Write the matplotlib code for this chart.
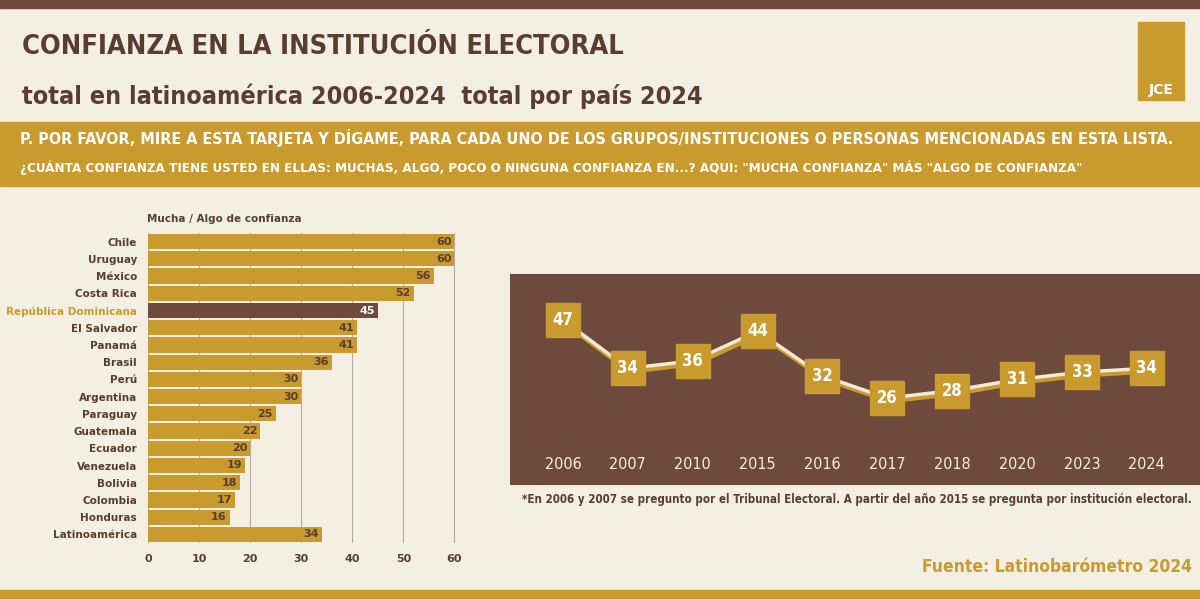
import matplotlib
matplotlib.use("Agg")
import matplotlib.pyplot as plt
import matplotlib.patches as mpatches

paises = ["Chile", "Uruguay", "México", "Costa Rica", "República Dominicana", "El Salvador",
          "Panamá", "Brasil", "Perú", "Argentina", "Paraguay", "Guatemala", "Ecuador",
          "Venezuela", "Bolivia", "Colombia", "Honduras", "Latinoamérica"]
valores = [60, 60, 56, 52, 45, 41, 41, 36, 30, 30, 25, 22, 20, 19, 18, 17, 16, 34]
anios = ["2006", "2007", "2010", "2015", "2016", "2017", "2018", "2020", "2023", "2024"]
serie = [47, 34, 36, 44, 32, 26, 28, 31, 33, 34]

BG = "#f3efe3"
BROWN = "#6e4a3c"
GOLD = "#c99a2e"
TXT = "#5a3d30"
W, H = 1200, 599

fig = plt.figure(figsize=(12, 5.99), dpi=100, facecolor=BG)


def rect(x0, y0, x1, y1):
    # pixel coords (top-left origin) -> figure fraction
    return [x0 / W, 1 - y1 / H, (x1 - x0) / W, (y1 - y0) / H]


def fx(x):
    return x / W


def fy(y):
    return 1 - y / H


# franjas
fig.patches.append(mpatches.Rectangle((0, fy(8)), 1, 8 / H, transform=fig.transFigure, color=BROWN))
fig.patches.append(mpatches.Rectangle((0, 0), 1, 9 / H, transform=fig.transFigure, color=GOLD))
fig.patches.append(mpatches.Rectangle((0, fy(186)), 1, 64 / H, transform=fig.transFigure, color=GOLD))
fig.patches.append(mpatches.Rectangle((fx(1138), fy(100)), 46 / W, 78 / H, transform=fig.transFigure, color=GOLD))
fig.text(fx(1161), fy(90), "JCE", color="white", fontsize=10, fontweight="bold", ha="center", va="center")

cond = dict(fontstretch="condensed", fontweight="bold")
fig.text(fx(22), fy(47), "CONFIANZA EN LA INSTITUCIÓN ELECTORAL", color=TXT, fontsize=19.5, va="center", **cond)
fig.text(fx(22), fy(96), "total en latinoamérica 2006-2024  total por país 2024", color=TXT,
         fontsize=18, va="center", **cond)
fig.text(fx(20), fy(138), "P. POR FAVOR, MIRE A ESTA TARJETA Y DÍGAME, PARA CADA UNO DE LOS GRUPOS/INSTITUCIONES O PERSONAS MENCIONADAS EN ESTA LISTA.",
         color="white", fontsize=11.5, va="center", **cond)
fig.text(fx(20), fy(168), "¿CUÁNTA CONFIANZA TIENE USTED EN ELLAS: MUCHAS, ALGO, POCO O NINGUNA CONFIANZA EN...? AQUI: \"MUCHA CONFIANZA\" MÁS \"ALGO DE CONFIANZA\"",
         color="white", fontsize=9.6, va="center", **cond)

# barras
ax = fig.add_axes(rect(148, 233, 457, 543))
ax.set_facecolor("none")
y = list(range(len(paises)))
colores = [BROWN if p == "República Dominicana" else GOLD for p in paises]
ax.barh(y, valores, height=0.88, color=colores, zorder=2)
for yi, v, p in zip(y, valores, paises):
    ax.text(v - 0.6, yi, str(v), ha="right", va="center", fontsize=8, fontweight="bold",
            color="white" if p == "República Dominicana" else TXT, zorder=3)
ax.set_xlim(0, 60.5)
ax.set_ylim(len(paises) - 0.5, -0.5)
ax.set_xticks([0, 10, 20, 30, 40, 50, 60])
ax.xaxis.grid(True, color="#b5aba0", lw=0.8, zorder=0)
ax.set_yticks(y)
ax.set_yticklabels(paises, fontsize=7.5, fontweight="bold", color=TXT)
ax.get_yticklabels()[4].set_color(GOLD)
ax.tick_params(length=0, pad=8)
for lbl in ax.get_xticklabels():
    lbl.set_fontweight("bold")
    lbl.set_color(TXT)
    lbl.set_fontsize(8)
for s in ax.spines.values():
    s.set_visible(False)
fig.text(fx(147), fy(219), "Mucha / Algo de confianza", fontsize=7.5, fontweight="bold", color=TXT, va="center")

# linea
ax2 = fig.add_axes(rect(510, 274, 1200, 485))
ax2.set_facecolor(BROWN)
x = list(range(len(anios)))
ax2.plot([i + 0.03 for i in x], [v - 0.7 for v in serie], color=GOLD, lw=4, zorder=2)
ax2.plot(x, serie, color="#f4ead8", lw=2.5, zorder=3)
ax2.scatter(x, serie, marker="s", s=620, color=GOLD, edgecolor=GOLD, zorder=4)
for xi, v in zip(x, serie):
    ax2.text(xi, v, str(v), ha="center", va="center", color="white", fontsize=12, zorder=5, **cond)
    ax2.text(xi, 8.0, anios[xi], ha="center", va="center", color="#f3efe3", fontsize=11.5,
             fontstretch="condensed")
ax2.set_xlim(-0.817, 9.82)
ax2.set_ylim(2.6, 59.4)
ax2.set_xticks([])
ax2.set_yticks([])
for s in ax2.spines.values():
    s.set_visible(False)

fig.text(fx(1192), fy(499), "*En 2006 y 2007 se pregunto por el Tribunal Electoral. A partir del año 2015 se pregunta por institución electoral.",
         ha="right", va="center", fontsize=8.3, color=TXT, **cond)
fig.text(fx(1192), fy(567), "Fuente: Latinobarómetro 2024", ha="right", va="center", fontsize=12.5,
         color=GOLD, **cond)

fig.savefig("out.png", dpi=100, facecolor=BG)
